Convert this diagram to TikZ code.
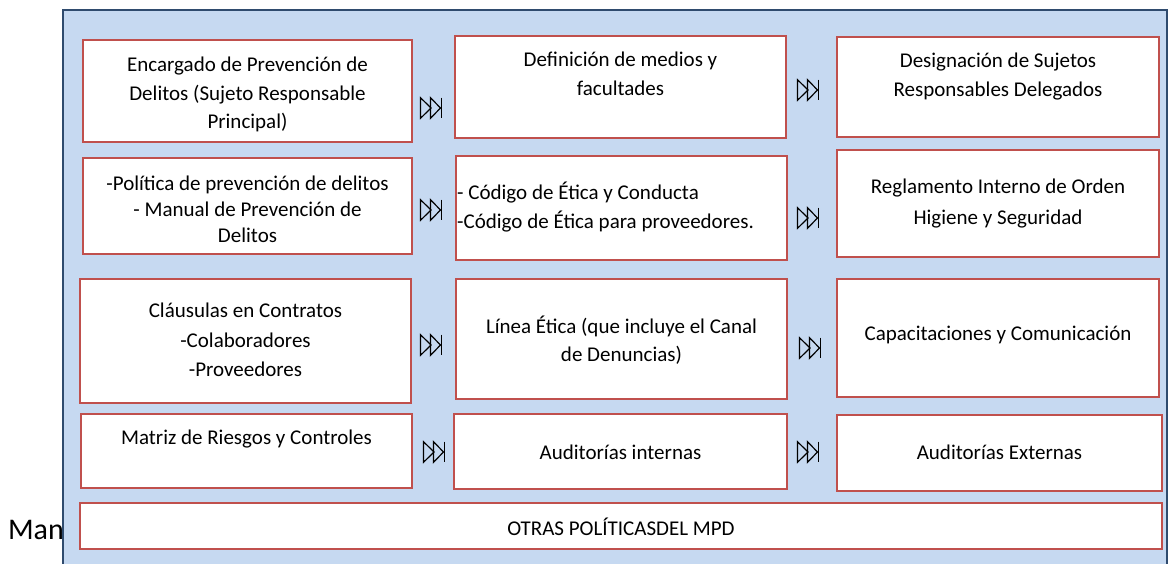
\documentclass[tikz,border=0pt]{standalone}
\usepackage{fontspec}
\setmainfont{Carlito}
\usetikzlibrary{calc}
\definecolor{bluefill}{HTML}{C6D9F1}
\definecolor{blueline}{HTML}{2F4B6E}
\definecolor{redline}{HTML}{C0504D}
\tikzset{
  box/.style={draw=redline, line width=1.6pt, fill=white, inner sep=0pt},
  txt/.style={font=\fontsize{21}{28.5}\selectfont, align=center, inner sep=0pt, text=black},
  ffw/.style={minimum width=24pt, minimum height=24pt, inner sep=0pt},
  sym/.style={draw=black, line width=1.2pt, line join=miter}
}
\begin{document}
\begin{tikzpicture}[x=1pt,y=-1pt]
\useasboundingbox (0,0) rectangle (1172,563);
\clip (0,0) rectangle (1172,563);
% partial text left of the panel
\node[font=\fontsize{30}{32}\selectfont, anchor=east, inner sep=0pt] (man) at (64,530) {Man};
% panel
\node[draw=blueline, fill=bluefill, line width=1.2pt, inner sep=0pt, minimum width=1104pt, minimum height=560pt] (panel) at (615,290) {};
% boxes
\node[box, minimum width=329pt, minimum height=102pt] (A) at (247.5,91) {};
\node[box, minimum width=331pt, minimum height=102pt] (B) at (620.5,87) {};
\node[box, minimum width=322pt, minimum height=100pt] (C) at (998,87) {};
\node[box, minimum width=329pt, minimum height=96pt] (D) at (247.5,206) {};
\node[box, minimum width=331pt, minimum height=104pt] (E) at (621.5,208) {};
\node[box, minimum width=322pt, minimum height=107pt] (F) at (998,203.5) {};
\node[box, minimum width=331pt, minimum height=124pt] (G) at (245.5,341) {};
\node[box, minimum width=331pt, minimum height=120pt] (H) at (621.5,339) {};
\node[box, minimum width=322pt, minimum height=118pt] (I) at (998,338) {};
\node[box, minimum width=331pt, minimum height=74pt] (J) at (246.5,451) {};
\node[box, minimum width=333pt, minimum height=75pt] (K) at (620.5,451.5) {};
\node[box, minimum width=325pt, minimum height=76pt] (L) at (999.5,453) {};
\node[box, minimum width=1082pt, minimum height=46pt] (M) at (621,526) {};
% texts
\node[txt] (tA) at (247.5,94.5) {Encargado de Prevención de\\Delitos (Sujeto Responsable\\Principal)};
\node[txt] (tB) at (620.5,74) {Definición de medios y\\facultades};
\node[txt] (tC) at (998,76.5) {Designación de Sujetos\\Responsables Delegados};
\node[txt, font=\fontsize{21}{26}\selectfont] (tD) at (247.5,209) {-Política de prevención de delitos\\- Manual de Prevención de\\Delitos};
\node[txt, align=left, anchor=west, font=\fontsize{21}{29}\selectfont] (tE) at (457,207.5) {- Código de Ética y Conducta\\-Código de Ética para proveedores.};
\node[txt, font=\fontsize{21}{31}\selectfont] (tF) at (998,203.5) {Reglamento Interno de Orden\\Higiene y Seguridad};
\node[txt, font=\fontsize{21}{29.5}\selectfont] (tG) at (245.5,340) {Cláusulas en Contratos\\-Colaboradores\\-Proveedores};
\node[txt] (tH) at (621.5,340) {Línea Ética (que incluye el Canal\\de Denuncias)};
\node[txt] (tI) at (998,335) {Capacitaciones y Comunicación};
\node[txt] (tJ) at (246.5,439) {Matriz de Riesgos y Controles};
\node[txt] (tK) at (620.5,452) {Auditorías internas};
\node[txt] (tL) at (999.5,452) {Auditorías Externas};
\node[txt, font=\fontsize{21}{24}\selectfont] (tM) at (621,527) {OTRAS POLÍTICASDEL MPD};
% fast-forward markers
\node[ffw] (a1) at (431,108) {};
\node[ffw] (a2) at (808,90) {};
\node[ffw] (a3) at (431,210) {};
\node[ffw] (a4) at (808,218) {};
\node[ffw] (a5) at (431,345) {};
\node[ffw] (a6) at (810,348) {};
\node[ffw] (a7) at (434,452) {};
\node[ffw] (a8) at (808,452) {};
\foreach \n in {a1,a2,a3,a4,a5,a6,a7,a8}{
  \draw[sym] ([shift={(-10.5,-10.3)}]\n.center) -- ([shift={(0,0)}]\n.center) -- ([shift={(-10.5,10.3)}]\n.center) -- cycle;
  \draw[sym] ([shift={(-0.5,-10.3)}]\n.center) -- ([shift={(9.5,0)}]\n.center) -- ([shift={(-0.5,10.3)}]\n.center) -- cycle;
  \draw[sym] ([shift={(10.4,-10.3)}]\n.center) -- ([shift={(10.4,10.3)}]\n.center);
}
\end{tikzpicture}
\end{document}
